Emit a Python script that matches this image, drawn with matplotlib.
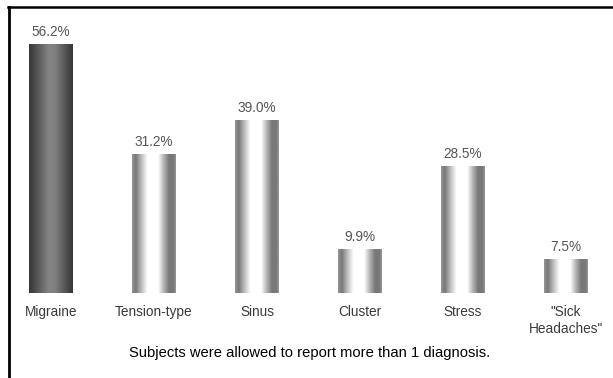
import numpy as np
import matplotlib
matplotlib.use("Agg")
import matplotlib.pyplot as plt
from matplotlib.lines import Line2D

plt.rcParams['font.family'] = ['Liberation Sans', 'DejaVu Sans']

# data
categories = ['Migraine', 'Tension-type', 'Sinus', 'Cluster', 'Stress', '"Sick\nHeadaches"']
values = [56.2, 31.2, 39.0, 9.9, 28.5, 7.5]
value_labels = ['56.2%', '31.2%', '39.0%', '9.9%', '28.5%', '7.5%']
note = 'Subjects were allowed to report more than 1 diagnosis.'

W, H = 613, 378
fig = plt.figure(figsize=(W / 100, H / 100), dpi=100)
ax = fig.add_axes([0, 85 / H, 1, 287 / H])
ax.set_xlim(-0.49, 5.461)
ax.set_ylim(0, 287 / 4.43)
ax.axis('off')

# cylinder shading profiles (position across bar -> gray level)
t = np.linspace(0, 1, 60)
light = np.interp(t, [0, 0.08, 0.2, 0.35, 0.6, 0.72, 0.85, 0.95, 1],
                  [0.58, 0.47, 0.72, 1.0, 1.0, 0.72, 0.47, 0.47, 0.58])
dark = np.interp(t, [0, 0.1, 0.45, 0.6, 0.9, 1],
                 [0.22, 0.28, 0.52, 0.5, 0.28, 0.22])

bw = 0.42
for i, v in enumerate(values):
    prof = dark if i == 0 else light
    img = np.tile(prof, (2, 1))
    ax.imshow(img, cmap='gray', vmin=0, vmax=1, aspect='auto',
              extent=(i - bw / 2, i + bw / 2, 0, v), interpolation='bilinear')
    ax.text(i, v + 1.2, value_labels[i], ha='center', va='bottom',
            fontsize=9.8, color='#555555')

# category labels below the baseline
for i, c in enumerate(categories):
    fig.text((51 + 103 * i) / W, 1 - 305 / H, c, ha='center', va='top',
             fontsize=9.8, color='#3a3a3a', linespacing=1.25)

fig.text(310 / W, 1 - 353 / H, note, ha='center', va='center',
         fontsize=10.6, color='black')

# frame lines (top and left)
fig.add_artist(Line2D([8 / W, 1], [1 - 6.5 / H, 1 - 6.5 / H], color='black', lw=1.8))
fig.add_artist(Line2D([8.5 / W, 8.5 / W], [0, 1 - 6.5 / H], color='black', lw=2))

fig.savefig('out.png', dpi=100)
